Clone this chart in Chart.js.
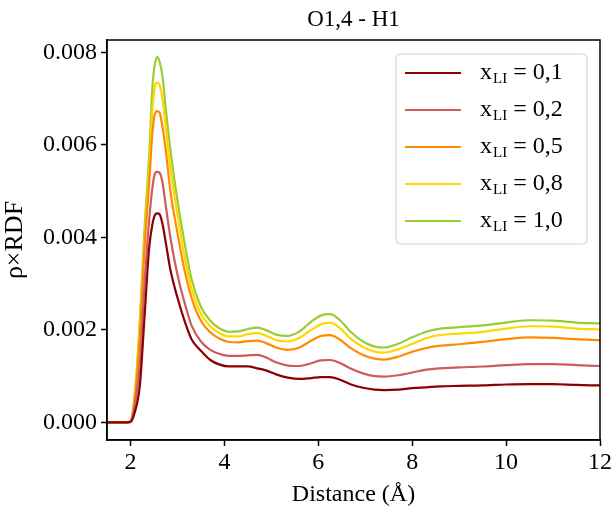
<!DOCTYPE html>
<html>
<head>
<meta charset="utf-8">
<script src="https://cdn.jsdelivr.net/npm/chart.js@4.4.1/dist/chart.umd.min.js"></script>
<style>
  html, body { margin: 0; padding: 0; background: #fff; }
  #wrap { width: 614px; height: 509px; }
</style>
</head>
<body>
<div id="wrap"><canvas id="rdfChart" width="614" height="509"></canvas></div>
<script>
// distances (Å) where the curves were read
const distance = [1.5, 1.9, 2.0, 2.1, 2.2, 2.3, 2.4, 2.47, 2.53, 2.57, 2.62, 2.68, 2.75, 2.85, 3.0, 3.15, 3.3, 3.5, 3.7, 3.9, 4.1, 4.3, 4.5, 4.7, 4.9, 5.1, 5.35, 5.6, 5.85, 6.05, 6.25, 6.45, 6.7, 6.95, 7.2, 7.4, 7.7, 8.0, 8.3, 8.6, 9.0, 9.5, 10.0, 10.5, 11.0, 11.5, 12.0];

const rdf01 = [0, 0, 0.00001, 0.00025, 0.0008, 0.0023, 0.0038, 0.0043, 0.0045, 0.00452, 0.0045, 0.0043, 0.0039, 0.0033, 0.0027, 0.0022, 0.0018, 0.00155, 0.00135, 0.00125, 0.00121, 0.00121, 0.00121, 0.00117, 0.00112, 0.00104, 0.00097, 0.00094, 0.00096, 0.00098, 0.00098, 0.00093, 0.00082, 0.00075, 0.00071, 0.0007, 0.00071, 0.00074, 0.00076, 0.00078, 0.00079, 0.0008, 0.00082, 0.00083, 0.00083, 0.00081, 0.0008];
const rdf02 = [0, 0, 0.00002, 0.0004, 0.0013, 0.003, 0.0044, 0.0051, 0.0054, 0.00542, 0.0054, 0.0052, 0.0047, 0.004, 0.0032, 0.0026, 0.0021, 0.00175, 0.00157, 0.00148, 0.00144, 0.00144, 0.00145, 0.00146, 0.0014, 0.0013, 0.00123, 0.00122, 0.00128, 0.00134, 0.00135, 0.00129, 0.00116, 0.00106, 0.001, 0.00099, 0.00102, 0.00108, 0.00114, 0.00117, 0.00119, 0.00121, 0.00124, 0.00126, 0.00126, 0.00124, 0.00122];
const rdf05 = [0, 0, 0.00003, 0.0006, 0.0019, 0.0038, 0.0052, 0.0063, 0.0067, 0.00673, 0.0067, 0.0064, 0.0059, 0.005, 0.0041, 0.0033, 0.0027, 0.0022, 0.00195, 0.00181, 0.00174, 0.00173, 0.00176, 0.00177, 0.00171, 0.00162, 0.00157, 0.00162, 0.00177, 0.00187, 0.00189, 0.0018, 0.0016, 0.00146, 0.00138, 0.00136, 0.00142, 0.00153, 0.00161, 0.00166, 0.00169, 0.00174, 0.0018, 0.00184, 0.00183, 0.0018, 0.00178];
const rdf08 = [0, 0, 0.00003, 0.00065, 0.0021, 0.004, 0.0055, 0.0068, 0.0073, 0.00735, 0.0073, 0.007, 0.0064, 0.0055, 0.0045, 0.0036, 0.0029, 0.00235, 0.00208, 0.00193, 0.00186, 0.00186, 0.00191, 0.00193, 0.00187, 0.00178, 0.00175, 0.00183, 0.002, 0.00212, 0.00216, 0.00205, 0.0018, 0.00163, 0.00153, 0.00151, 0.00158, 0.0017, 0.00182, 0.00189, 0.00192, 0.00196, 0.00203, 0.00208, 0.00207, 0.00203, 0.00201];
const rdf10 = [0, 0, 0.00003, 0.0007, 0.0022, 0.0042, 0.0058, 0.0073, 0.0078, 0.0079, 0.0078, 0.0075, 0.0068, 0.0059, 0.0048, 0.0039, 0.0031, 0.0025, 0.0022, 0.00203, 0.00196, 0.00197, 0.00202, 0.00205, 0.00199, 0.0019, 0.00187, 0.00197, 0.00218, 0.00231, 0.00234, 0.00222, 0.00195, 0.00175, 0.00164, 0.00162, 0.0017, 0.00184, 0.00196, 0.00203, 0.00206, 0.0021, 0.00216, 0.00221, 0.0022, 0.00216, 0.00214];

const fractions = ['0,1', '0,2', '0,5', '0,8', '1,0'];
const colores = ['#8b0000', '#cd5c5c', '#ff8c00', '#ffd700', '#9acd32'];
const series = [rdf01, rdf02, rdf05, rdf08, rdf10];

const xTicks = [2, 4, 6, 8, 10, 12];
const yTicks = [0, 0.002, 0.004, 0.006, 0.008];

const FONT = "'Liberation Serif', 'DejaVu Serif', serif";

const datasets = series.map((vals, i) => ({
  label: 'x_LI = ' + fractions[i],
  data: vals.map((v, j) => ({ x: distance[j], y: v })),
  borderColor: colores[i],
  borderWidth: 2.2,
  pointRadius: 0,
  fill: false,
  cubicInterpolationMode: 'monotone'
}));

const framePlugin = {
  id: 'frame',
  afterDraw(chart) {
    const { ctx, chartArea: a } = chart;
    ctx.save();
    ctx.strokeStyle = '#000';
    ctx.lineWidth = 1.5;
    ctx.strokeRect(a.left, a.top, a.right - a.left, a.bottom - a.top);

    // title
    ctx.fillStyle = '#000';
    ctx.font = '23px ' + FONT;
    ctx.textAlign = 'center';
    ctx.textBaseline = 'alphabetic';
    ctx.fillText('O1,4 - H1', (a.left + a.right) / 2, a.top - 14);

    // legend
    const bw = 191, bh = 190;
    const bx = a.right - 13 - bw, by = a.top + 14;
    ctx.beginPath();
    ctx.roundRect(bx, by, bw, bh, 4);
    ctx.fillStyle = 'rgba(255,255,255,0.8)';
    ctx.fill();
    ctx.strokeStyle = '#d0d0d0';
    ctx.lineWidth = 1;
    ctx.stroke();

    ctx.textAlign = 'left';
    fractions.forEach((f, i) => {
      const ry = by + 19 + i * 37;
      ctx.strokeStyle = colores[i];
      ctx.lineWidth = 2.2;
      ctx.beginPath();
      ctx.moveTo(bx + 9, ry);
      ctx.lineTo(bx + 65, ry);
      ctx.stroke();

      let tx = bx + 84;
      ctx.fillStyle = '#000';
      ctx.font = '24px ' + FONT;
      ctx.fillText('x', tx, ry + 6);
      tx += ctx.measureText('x').width + 1;
      ctx.font = '15px ' + FONT;
      ctx.fillText('LI', tx, ry + 10);
      tx += ctx.measureText('LI').width;
      ctx.font = '24px ' + FONT;
      ctx.fillText(' = ' + f, tx, ry + 6);
    });
    ctx.restore();
  }
};

new Chart(
  document.getElementById('rdfChart'),
  {
    type: 'line',

    data: { datasets: datasets },

    options: {
      responsive: false,
      animation: false,
      layout: { padding: { top: 40, right: 12, left: 0, bottom: 0 } },

      plugins: {
        legend: { display: false },
        tooltip: { enabled: false }
      },

      scales: {
        x: {
          type: 'linear',
          min: 1.5,
          max: 12,
          afterBuildTicks: s => { s.ticks = xTicks.map(v => ({ value: v })); },
          afterFit: s => { s.height = 69; },
          grid: { drawOnChartArea: false, drawTicks: true, tickLength: 6, color: '#000', tickWidth: 1.5 },
          border: { display: true, color: '#000', width: 1.5 },
          ticks: {
            color: '#000',
            font: { family: FONT, size: 24 },
            padding: 2,
            maxRotation: 0,
            callback: v => String(v)
          },
          title: {
            display: true,
            text: 'Distance (Å)',
            color: '#000',
            font: { family: FONT, size: 24 },
            padding: { top: 0, bottom: 0 }
          }
        },

        y: {
          min: -0.00038,
          max: 0.00827,
          afterBuildTicks: s => { s.ticks = yTicks.map(v => ({ value: v })); },
          afterFit: s => { s.width = 107; },
          grid: { drawOnChartArea: false, drawTicks: true, tickLength: 6, color: '#000', tickWidth: 1.5 },
          border: { display: true, color: '#000', width: 1.5 },
          ticks: {
            color: '#000',
            font: { family: FONT, size: 24 },
            padding: 4,
            callback: v => v.toFixed(3)
          },
          title: {
            display: true,
            text: 'ρ×RDF',
            color: '#000',
            font: { family: FONT, size: 26 },
            padding: { top: 0, bottom: 0 }
          }
        }
      }
    },

    plugins: [framePlugin]
  }
);
</script>
</body>
</html>
